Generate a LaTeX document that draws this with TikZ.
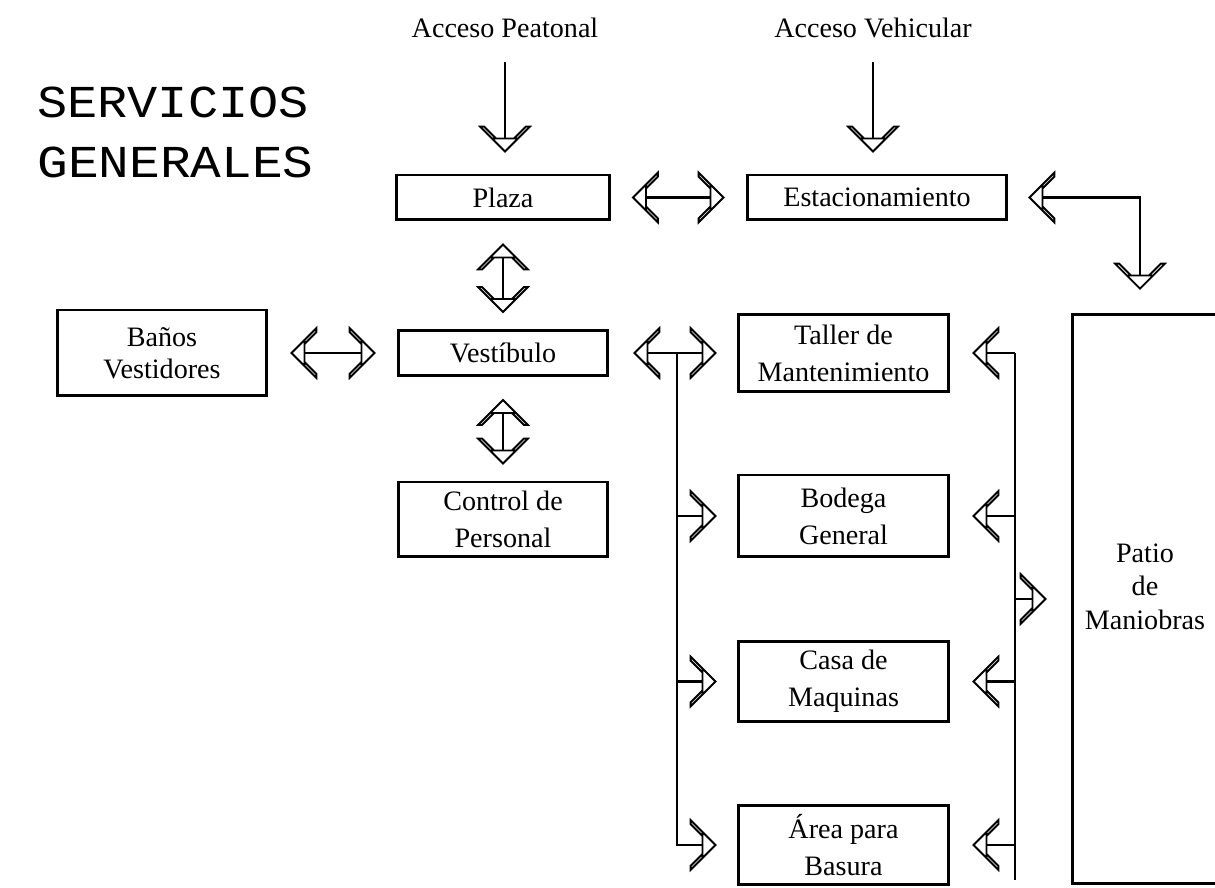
\documentclass[tikz,border=0pt]{standalone}
\usepackage{fontspec}
\setmainfont{Liberation Serif}
\newfontfamily\titlefont{Liberation Mono}
\newcommand\boxfont{\fontsize{16pt}{21pt}\selectfont}
\pgfdeclarearrow{
  name = Chev,
  setup code = {
    \pgfarrowssettipend{0pt}
    \pgfarrowssetlineend{-7.4pt}
    \pgfarrowssetvisualbackend{-14.2pt}
    \pgfarrowssetbackend{-14.2pt}
    \pgfarrowshullpoint{0pt}{0pt}
    \pgfarrowsupperhullpoint{-14.2pt}{14.2pt}
  },
  drawing code = {
    \pgfsetdash{}{0pt}
    \pgfsetlinewidth{1.05pt}
    \pgfsetmiterjoin
    \pgfpathmoveto{\pgfqpoint{-14.2pt}{14.2pt}}
    \pgfpathlineto{\pgfqpoint{0pt}{0pt}}
    \pgfpathlineto{\pgfqpoint{-14.2pt}{-14.2pt}}
    \pgfpathlineto{\pgfqpoint{-14.2pt}{-11.9pt}}
    \pgfpathlineto{\pgfqpoint{-7.4pt}{-5.1pt}}
    \pgfpathlineto{\pgfqpoint{-7.4pt}{5.1pt}}
    \pgfpathlineto{\pgfqpoint{-14.2pt}{11.9pt}}
    \pgfpathclose
    \pgfpathmoveto{\pgfqpoint{-7.4pt}{-7.4pt}}
    \pgfpathlineto{\pgfqpoint{-7.4pt}{7.4pt}}
    \pgfusepathqstroke
  }
}
\begin{document}
\begin{tikzpicture}[x=0.02cm,y=-0.02cm,
  box/.style={draw, line width=1.7pt, inner sep=0pt, align=center, font=\boxfont},
  lbl/.style={inner sep=0pt, font=\boxfont},
  ttl/.style={anchor=west, inner sep=0pt, font=\titlefont\fontsize{26pt}{34pt}\selectfont},
  conn/.style={line width=1.2pt},
  one/.style={conn, -Chev},
  dbl/.style={conn, Chev-Chev}]
\useasboundingbox (0,0) rectangle (1215,888);
\fill[white] (0,0) rectangle (1215,888);

% title
\node[ttl] (t1) at (37,102) {\scalebox{1.1}[1]{SERVICIOS}};
\node[ttl] (t2) at (37,162) {\scalebox{1.12}[1]{GENERALES}};

% access labels
\node[lbl] (peat) at (505,28) {Acceso Peatonal};
\node[lbl] (veh) at (873,28) {Acceso Vehicular};

% boxes
\node[box, minimum width=4.26cm, minimum height=0.9cm] (plaza) at (503,197.5) {Plaza};
\node[box, minimum width=5.2cm, minimum height=0.9cm] (estac) at (877,197.5) {Estacionamiento};
\node[box, minimum width=4.2cm, minimum height=0.9cm] (vest) at (503,353) {Vestíbulo};
\node[box, minimum width=4.2cm, minimum height=1.72cm, font=\fontsize{16pt}{18pt}\selectfont] (banos) at (162,353) {Baños\\Vestidores};
\node[box, minimum width=4.2cm, minimum height=1.5cm] (control) at (503,519.5) {Control de\\Personal};
\node[box, minimum width=4.22cm, minimum height=1.54cm] (taller) at (843.5,353) {Taller de\\Mantenimiento};
\node[box, minimum width=4.22cm, minimum height=1.64cm] (bodega) at (843.5,516) {Bodega\\General};
\node[box, minimum width=4.22cm, minimum height=1.62cm] (casa) at (843.5,681.5) {Casa de\\Maquinas};
\node[box, minimum width=4.22cm, minimum height=1.6cm] (area) at (843.5,845) {Área para\\Basura};
\node[box, minimum width=2.92cm, minimum height=11.4cm, text depth=0.5cm, font=\fontsize{16pt}{19pt}\selectfont] (patio) at (1145,599) {Patio\\de\\Maniobras};

% access arrows
\draw[one, shorten <=0.48cm, shorten >=0.44cm] (peat) -- (peat |- plaza.north);
\draw[one, shorten <=0.48cm, shorten >=0.44cm] (veh) -- (veh |- estac.north);

% two-way links
\draw[dbl, shorten <=0.44cm, shorten >=0.44cm] (plaza) -- (estac);
\draw[dbl, shorten <=0.46cm, shorten >=0.34cm] (plaza) -- (vest);
\draw[dbl, shorten <=0.46cm, shorten >=0.34cm] (vest) -- (control);
\draw[dbl, shorten <=0.46cm, shorten >=0.44cm] (banos) -- (vest);
\draw[dbl, shorten <=0.5cm, shorten >=0.42cm] (vest) -- (taller);
\draw[dbl, shorten <=0.42cm, shorten >=0.48cm] (estac.east) -| ([xshift=-0.1cm]patio.north);

% left distribution bus
\coordinate (lb) at (677,353);
\draw[one, shorten >=0.42cm] (lb) |- (bodega.west);
\draw[one, shorten >=0.42cm] (lb) |- (casa.west);
\draw[one, shorten >=0.42cm] (lb) |- (area.west);

% right distribution bus
\coordinate (rbt) at (1015,353);
\coordinate (rbb) at (1015,880);
\draw[conn] (rbt) -- (rbb);
\draw[one, shorten >=0.46cm] (rbt) -- (taller.east);
\draw[one, shorten >=0.46cm] (bodega.east -| rbt) -- (bodega.east);
\draw[one, shorten >=0.46cm] (casa.east -| rbt) -- (casa.east);
\draw[one, shorten >=0.46cm] (area.east -| rbt) -- (area.east);
\draw[one, shorten >=0.5cm] (patio.west -| rbt) -- (patio.west);
\end{tikzpicture}
\end{document}
